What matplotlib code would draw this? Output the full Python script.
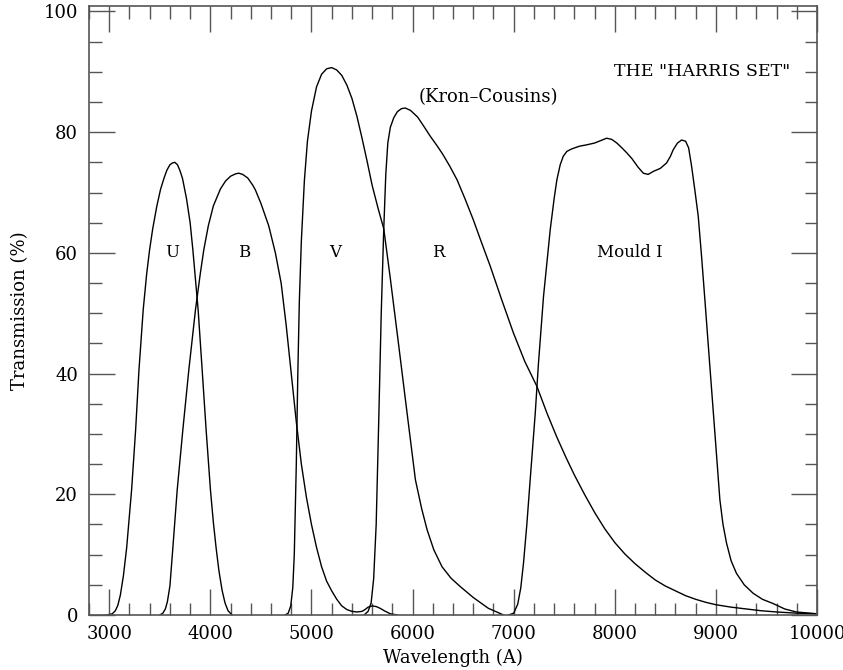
import matplotlib
matplotlib.use("Agg")
import matplotlib.pyplot as plt
from matplotlib.ticker import MultipleLocator

# filter transmission curves (wavelength in A, transmission in %)
u_wave = [2980, 3030, 3060, 3085, 3110, 3140, 3172, 3221, 3261, 3294, 3336, 3370, 3399,
          3430, 3470, 3507, 3540, 3570, 3600, 3625, 3649, 3675, 3700, 3725, 3764, 3800,
          3827, 3879, 3919, 3958, 4001, 4030, 4057, 4085, 4116, 4145, 4175, 4215]
u_trans = [0, 0.2, 0.7, 1.6, 3.3, 6.5, 11.1, 20.7, 30.7, 40.6, 50.6, 56.5, 60.5,
           64.0, 67.7, 70.5, 72.3, 73.7, 74.6, 74.9, 75.0, 74.6, 73.6, 72.3, 69.0, 65.0,
           60.5, 50.6, 40.6, 30.7, 20.7, 15.3, 11.1, 7.3, 4.1, 2.0, 0.7, 0]

b_wave = [3500, 3530, 3555, 3575, 3600, 3629, 3672, 3728, 3787, 3853, 3900, 3935, 3980,
          4030, 4100, 4150, 4200, 4250, 4281, 4320, 4370, 4420, 4446, 4500, 4577,
          4643, 4700, 4750, 4800, 4850, 4900, 4950, 5000, 5050, 5100, 5150, 5200,
          5250, 5300, 5350, 5400, 5450, 5500, 5530, 5560, 5600, 5640, 5680, 5720,
          5780, 5850]
b_trans = [0, 0.3, 1.0, 2.2, 4.8, 11.1, 20.7, 30.7, 40.6, 50.6, 56.5, 60.5, 64.5,
           67.8, 70.6, 71.9, 72.7, 73.1, 73.2, 73.0, 72.4, 71.2, 70.4, 68.2, 64.5,
           60.0, 55.0, 48.0, 40.0, 32.0, 25.0, 19.5, 15.0, 11.2, 8.0, 5.6, 4.0,
           2.6, 1.5, 0.9, 0.6, 0.5, 0.6, 0.9, 1.3, 1.5, 1.4, 1.1, 0.7, 0.2, 0]

v_wave = [4740, 4770, 4795, 4815, 4830, 4850, 4865, 4880, 4900, 4930, 4960, 5000, 5050,
          5100, 5150, 5200, 5250, 5300, 5350, 5400, 5450, 5500, 5550, 5600, 5660,
          5715, 5781, 5864, 5946, 6028, 6090, 6144, 6210, 6291, 6380, 6472, 6600,
          6750, 6900]
v_trans = [0, 0.3, 1.5, 4.5, 10.0, 25.0, 40.0, 52.0, 62.0, 72.0, 78.5, 83.5, 87.5,
           89.6, 90.5, 90.7, 90.3, 89.4, 87.8, 85.6, 82.6, 79.0, 75.2, 71.2, 67.3,
           64.0, 55.6, 44.5, 33.4, 22.4, 17.6, 14.1, 10.8, 8.0, 6.1, 4.7, 2.9,
           1.1, 0]

r_wave = [5520, 5560, 5590, 5615, 5640, 5665, 5690, 5715, 5735, 5755, 5780, 5814, 5850,
          5890, 5929, 5980, 6050, 6110, 6176, 6240, 6300, 6370, 6440, 6520, 6600,
          6680, 6768, 6880, 6998, 7110, 7229, 7330, 7426, 7520, 7600, 7700, 7800,
          7900, 8000, 8100, 8200, 8300, 8400, 8500, 8600, 8700, 8800, 8900, 9000,
          9150, 9300, 9450, 9600, 9800, 10000]
r_trans = [0, 0.6, 2.0, 6.0, 15.0, 32.0, 50.0, 64.0, 73.0, 78.2, 80.8, 82.4, 83.4,
           83.9, 84.0, 83.6, 82.5, 81.0, 79.3, 77.8, 76.3, 74.3, 72.1, 68.9, 65.5,
           61.8, 57.8, 52.3, 46.7, 42.0, 37.9, 33.4, 29.5, 26.0, 23.2, 20.0, 17.0,
           14.3, 12.0, 10.1, 8.5, 7.1, 5.8, 4.8, 4.0, 3.2, 2.6, 2.1, 1.7,
           1.3, 1.0, 0.7, 0.5, 0.3, 0.2]

i_wave = [6950, 7000, 7040, 7070, 7097, 7130, 7163, 7213, 7245, 7295, 7361, 7400, 7427,
          7460, 7490, 7525, 7570, 7620, 7657, 7722, 7800, 7860, 7920, 7970, 8020,
          8070, 8117, 8170, 8230, 8282, 8330, 8381, 8450, 8512, 8550, 8578, 8620,
          8661, 8700, 8730, 8759, 8790, 8825, 8860, 8891, 8940, 8990, 9039, 9070,
          9105, 9150, 9203, 9280, 9368, 9460, 9565, 9680, 9795, 10000]
i_trans = [0, 0.3, 1.8, 4.5, 8.6, 15.0, 22.4, 33.4, 41.7, 52.8, 63.8, 69.0, 72.1,
           74.6, 76.0, 76.8, 77.2, 77.5, 77.7, 77.9, 78.2, 78.6, 79.0, 78.8, 78.2,
           77.4, 76.6, 75.6, 74.2, 73.2, 73.0, 73.5, 74.0, 74.9, 76.0, 77.1, 78.2,
           78.7, 78.5, 77.4, 74.4, 70.6, 66.1, 59.0, 52.2, 41.2, 30.1, 19.1, 15.0,
           11.9, 9.0, 6.9, 5.0, 3.6, 2.6, 1.9, 1.0, 0.5, 0.2]

band_names = ["U", "B", "V", "R", "Mould I"]
band_label_x = [3619, 4330, 5238, 6255, 8150]
band_label_y = [60, 60, 60, 60, 60]

plt.rcParams["font.family"] = "DejaVu Serif"

fig = plt.figure(figsize=(8.43, 6.70), dpi=100)
ax = fig.add_axes([0.1056, 0.0821, 0.8636, 0.9089])

for w, t in [(u_wave, u_trans), (b_wave, b_trans), (v_wave, v_trans),
             (r_wave, r_trans), (i_wave, i_trans)]:
    ax.plot(w, t, color="black", lw=1.0)

for name, x, y in zip(band_names, band_label_x, band_label_y):
    ax.text(x, y, name, ha="center", va="center", fontsize=12)

ax.text(6749, 85.8, "(Kron\u2013Cousins)", ha="center", va="center", fontsize=13)
ax.text(8861, 90, 'THE "HARRIS SET"', ha="center", va="center", fontsize=12.5)

ax.set_xlim(2800, 10000)
ax.set_ylim(0, 100.9)
ax.xaxis.set_major_locator(MultipleLocator(1000))
ax.xaxis.set_minor_locator(MultipleLocator(200))
ax.yaxis.set_major_locator(MultipleLocator(20))
ax.yaxis.set_minor_locator(MultipleLocator(5))
ax.tick_params(which="both", direction="in", top=True, right=True,
               color="#555555", width=1.0, labelsize=13)
ax.tick_params(which="major", length=19)
ax.tick_params(which="minor", length=9)
ax.tick_params(axis="x", which="major", pad=7)
ax.tick_params(axis="y", which="major", pad=8)
for sp in ax.spines.values():
    sp.set_color("#555555")
    sp.set_linewidth(1.2)

ax.set_xlabel("Wavelength (A)", fontsize=13, labelpad=4)
ax.set_ylabel("Transmission (%)", fontsize=13, labelpad=10)

fig.savefig("out.png", dpi=100)
